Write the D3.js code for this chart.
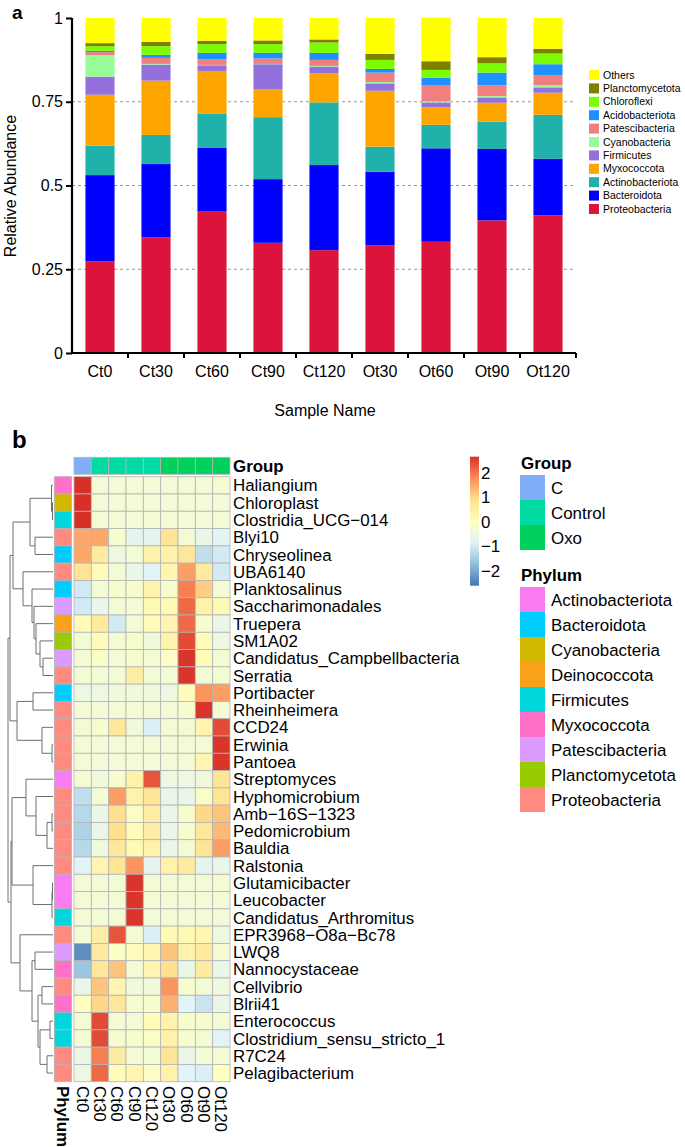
<!DOCTYPE html>
<html><head><meta charset="utf-8">
<script src="https://cdn.jsdelivr.net/npm/d3@7"></script>
<style>
body{margin:0;background:#fff}
text{font-family:"Liberation Sans",Arial,Helvetica,sans-serif;fill:#000}
</style>
</head><body>
<svg id="chart" width="685" height="1147"></svg>
<script>
// ---------------- Panel a data ----------------
const samples = ["Ct0","Ct30","Ct60","Ct90","Ct120","Ot30","Ot60","Ot90","Ot120"];
const phylaStack = ["Proteobacteria","Bacteroidota","Actinobacteriota","Myxococcota","Firmicutes","Cyanobacteria","Patescibacteria","Acidobacteriota","Chloroflexi","Planctomycetota","Others"];
const phylaStackColors = ["#DC143C","#0000FF","#20B2AA","#FFA500","#9370DB","#98FB98","#F08080","#1E90FF","#7CFC00","#808000","#FFFF00"];
const proteobacteria   = [0.273,0.345,0.422,0.329,0.307,0.321,0.332,0.396,0.411];
const bacteroidota     = [0.258,0.219,0.190,0.190,0.254,0.220,0.279,0.213,0.169];
const actinobacteriota = [0.088,0.087,0.103,0.185,0.187,0.075,0.070,0.081,0.131];
const myxococcota      = [0.152,0.162,0.127,0.084,0.087,0.167,0.052,0.057,0.066];
const firmicutes       = [0.054,0.048,0.017,0.074,0.020,0.022,0.015,0.016,0.016];
const cyanobacteria    = [0.064,0.002,0.001,0.001,0.002,0.004,0.003,0.004,0.006];
const patescibacteria  = [0.009,0.018,0.017,0.016,0.018,0.028,0.049,0.032,0.031];
const acidobacteriota  = [0.004,0.009,0.019,0.017,0.021,0.011,0.022,0.038,0.032];
const chloroflexi      = [0.014,0.026,0.026,0.026,0.031,0.027,0.023,0.028,0.032];
const planctomycetota  = [0.009,0.013,0.010,0.011,0.009,0.018,0.026,0.018,0.014];
const others           = [0.075,0.071,0.068,0.067,0.064,0.107,0.130,0.117,0.092];
const yTicks = [0,0.25,0.5,0.75,1];

// ---------------- Panel b data ----------------
const rowNames = ["Haliangium","Chloroplast","Clostridia_UCG\u2212014","Blyi10","Chryseolinea","UBA6140","Planktosalinus","Saccharimonadales","Truepera","SM1A02","Candidatus_Campbellbacteria","Serratia","Portibacter","Rheinheimera","CCD24","Erwinia","Pantoea","Streptomyces","Hyphomicrobium","Amb\u221216S\u22121323","Pedomicrobium","Bauldia","Ralstonia","Glutamicibacter","Leucobacter","Candidatus_Arthromitus","EPR3968\u2212O8a\u2212Bc78","LWQ8","Nannocystaceae","Cellvibrio","Blrii41","Enterococcus","Clostridium_sensu_stricto_1","R7C24","Pelagibacterium"];
const rowPhylum = ["Myxococcota","Cyanobacteria","Firmicutes","Proteobacteria","Bacteroidota","Proteobacteria","Bacteroidota","Patescibacteria","Deinococcota","Planctomycetota","Patescibacteria","Proteobacteria","Bacteroidota","Proteobacteria","Proteobacteria","Proteobacteria","Proteobacteria","Actinobacteriota","Proteobacteria","Proteobacteria","Proteobacteria","Proteobacteria","Proteobacteria","Actinobacteriota","Actinobacteriota","Firmicutes","Proteobacteria","Patescibacteria","Myxococcota","Proteobacteria","Myxococcota","Firmicutes","Firmicutes","Proteobacteria","Proteobacteria"];
const heatValues = [
 [2.67,-0.33,-0.33,-0.33,-0.33,-0.33,-0.33,-0.33,-0.25],
 [2.67,-0.33,-0.33,-0.33,-0.33,-0.33,-0.33,-0.33,-0.33],
 [2.67,-0.33,-0.33,-0.33,-0.33,-0.33,-0.33,-0.33,-0.33],
 [1.5,1.5,-0.2,-0.7,-0.7,0.8,-0.3,-0.6,-0.8],
 [1.5,0.6,-0.5,-0.3,0.4,0.4,0.7,-1.2,-1.0],
 [0.8,0.1,-0.3,-0.6,-0.8,0.3,1.6,0.6,-1.0],
 [-1.0,-0.3,-0.2,-0.2,0.4,-0.2,1.9,1.1,-0.3],
 [-1.0,-0.6,-0.3,-0.3,0.2,0.2,2.1,0.4,0.2],
 [0.1,0.6,-1.0,-0.3,0.1,0.3,2.1,-0.2,-0.6],
 [-0.3,0.1,-0.3,-0.2,-0.4,0.4,2.4,0.1,-0.5],
 [-0.3,-0.1,-0.3,-0.2,-0.3,-0.1,2.6,0.1,-0.3],
 [-0.3,-0.3,-0.3,0.5,-0.3,-0.3,2.6,-0.3,-0.3],
 [-0.5,-0.5,-0.4,-0.4,-0.4,-0.5,0.1,1.7,1.6],
 [-0.33,-0.33,-0.33,-0.33,-0.33,-0.33,-0.2,2.6,-0.33],
 [-0.3,-0.2,0.7,-0.4,-0.9,-0.3,-0.3,0.3,2.4],
 [-0.33,-0.33,-0.33,-0.33,-0.33,-0.33,-0.33,-0.3,2.6],
 [-0.33,-0.33,-0.33,-0.33,-0.33,-0.33,-0.33,0.3,2.6],
 [-0.3,-0.4,-0.2,0.4,2.3,-0.5,-0.5,-0.4,0.8],
 [-1.2,-0.3,1.6,0.4,0.8,-0.6,-0.6,-0.1,0.8],
 [-1.3,-0.6,0.9,-0.1,0.5,-0.6,-0.2,1.0,1.2],
 [-1.4,-0.6,0.9,0.1,0.5,-0.6,-0.2,0.7,1.3],
 [-1.3,-0.4,0.7,0.2,0.4,-0.6,-0.3,0.8,1.6],
 [-0.8,0.3,0.8,1.7,-0.7,0.4,0.6,-0.7,-0.6],
 [-0.33,-0.33,-0.33,2.6,-0.33,-0.33,-0.33,-0.33,-0.33],
 [-0.33,-0.33,-0.33,2.6,-0.33,-0.33,-0.33,-0.33,-0.33],
 [-0.33,-0.33,-0.33,2.6,-0.33,-0.33,-0.33,-0.33,-0.33],
 [-0.3,0.5,2.3,-0.3,-0.9,0.2,0.2,0.3,-0.5],
 [-2.3,0.6,-0.1,0.1,0.3,1.2,0.4,0.6,-0.3],
 [-1.6,0.7,1.2,-0.3,0.3,0.9,-0.6,0.6,-0.6],
 [-0.6,1.2,0.3,-0.4,-0.4,1.7,-0.2,-0.3,-0.4],
 [0.0,1.0,0.7,-0.2,-0.2,1.4,-0.8,-1.1,-0.6],
 [-0.3,2.4,-0.3,-0.3,0.1,0.4,-0.2,-0.2,-0.3],
 [-0.3,2.4,-0.2,-0.2,-0.1,0.4,-0.2,-0.3,-0.8],
 [-0.6,1.9,0.6,-0.3,-0.3,0.8,-0.6,-0.3,-0.3],
 [-0.5,2.1,0.1,0.3,-0.1,0.4,-0.8,-0.9,0.0]
];
const sampleGroup = ["C","Control","Control","Control","Control","Oxo","Oxo","Oxo","Oxo"];
const groupNames = ["C","Control","Oxo"];
const groupColors = ["#80AEF7","#00DBA3","#00D05C"];
const phylumNames = ["Actinobacteriota","Bacteroidota","Cyanobacteria","Deinococcota","Firmicutes","Myxococcota","Patescibacteria","Planctomycetota","Proteobacteria"];
const phylumColors = ["#F97CF2","#00CCFF","#D2B800","#F9A11B","#00D6DC","#FF70C8","#DC9BFF","#99CC00","#FF8A80"];
const heatPalette = ["#4575B4","#91BFDB","#E0F3F8","#FFFFBF","#FEE090","#FC8D59","#D73027"];
const legendTicks = [2,1,0,-1,-2];
// dendrogram merges: [id, childA, childB, height]
const dendroMerges = [
 ["n1","Chloroplast","Clostridia_UCG\u2212014",0.5],
 ["n2","Haliangium","n1",1.5],
 ["n3","Blyi10","Chryseolinea",18],
 ["n4","n2","n3",23],
 ["n5","Candidatus_Campbellbacteria","Serratia",10],
 ["n6","SM1A02","n5",13],
 ["n7","Truepera","n6",17],
 ["n8","Saccharimonadales","n7",19],
 ["n9","Planktosalinus","n8",21],
 ["n10","UBA6140","n9",30],
 ["n11","n4","n10",40],
 ["n12","Portibacter","Rheinheimera",20],
 ["n13","Erwinia","Pantoea",1],
 ["n14","CCD24","n13",11],
 ["n15","n12","n14",36],
 ["n16","n11","n15",43],
 ["n17","Amb\u221216S\u22121323","Pedomicrobium",1],
 ["n18","n17","Bauldia",6],
 ["n19","Hyphomicrobium","n18",17],
 ["n20","Streptomyces","n19",27],
 ["n21","Glutamicibacter","Leucobacter",0.5],
 ["n22","n21","Candidatus_Arthromitus",1],
 ["n23","Ralstonia","n22",20],
 ["n24","n20","n23",41],
 ["n25","LWQ8","Nannocystaceae",18],
 ["n26","Cellvibrio","Blrii41",11],
 ["n27","Enterococcus","Clostridium_sensu_stricto_1",3],
 ["n28","R7C24","Pelagibacterium",6],
 ["n29","n27","n28",13],
 ["n30","n26","n29",15],
 ["n31","n25","n30",21],
 ["n32","EPR3968\u2212O8a\u2212Bc78","n31",33],
 ["n33","n24","n32",42],
 ["n34","n16","n33",45]
];

// ---------------- Drawing ----------------
const svg = d3.select("#chart");

// ===== Panel a =====
const seriesArrays = [proteobacteria,bacteroidota,actinobacteriota,myxococcota,firmicutes,cyanobacteria,patescibacteria,acidobacteriota,chloroflexi,planctomycetota,others];
const table = samples.map((s,i)=>{const r={sample:s}; phylaStack.forEach((p,k)=>r[p]=seriesArrays[k][i]); return r;});
const stacked = d3.stack().keys(phylaStack)(table);
const xA = d3.scaleBand().domain(samples).range([72,576]).paddingInner(0.48).paddingOuter(0.24);
const yA = d3.scaleLinear().domain([0,1]).range([353,18]);
const colA = d3.scaleOrdinal().domain(phylaStack).range(phylaStackColors);

svg.append("text").attr("x",12).attr("y",19).attr("font-size",19).attr("font-weight","bold").text("a");

// grid
svg.append("g").selectAll("line").data([0.25,0.5,0.75]).join("line")
  .attr("x1",72).attr("x2",576).attr("y1",d=>yA(d)).attr("y2",d=>yA(d))
  .attr("stroke","#999").attr("stroke-width",1.2).attr("stroke-dasharray","3,3");

svg.append("g").selectAll("g").data(stacked).join("g").attr("fill",d=>colA(d.key))
  .selectAll("rect").data(d=>d).join("rect")
  .attr("x",d=>xA(d.data.sample)).attr("width",xA.bandwidth())
  .attr("y",d=>yA(d[1])).attr("height",d=>yA(d[0])-yA(d[1]));

const yAxis = svg.append("g").attr("transform","translate(72,0)")
  .call(d3.axisLeft(yA).tickValues(yTicks).tickFormat(d=>String(d)).tickSize(6).tickPadding(3));
yAxis.select(".domain").attr("stroke","#000").attr("stroke-width",2.2).attr("d","M0,"+yA(1)+"V"+yA(0));
yAxis.selectAll(".tick line").attr("stroke-width",2);
yAxis.selectAll("text").attr("font-size",16).attr("font-family","Liberation Sans, Arial, sans-serif");

const xAxis = svg.append("g").attr("transform","translate(0,353)")
  .call(d3.axisBottom(xA).tickSize(0).tickPadding(13));
xAxis.select(".domain").attr("stroke","#000").attr("stroke-width",2.2).attr("d","M71,0H576");
xAxis.selectAll("text").attr("font-size",16).attr("font-family","Liberation Sans, Arial, sans-serif");
svg.append("g").selectAll("line").data(d3.range(1,10)).join("line")
  .attr("x1",d=>72+d*xA.step()).attr("x2",d=>72+d*xA.step())
  .attr("y1",353).attr("y2",358).attr("stroke","#000").attr("stroke-width",2);

svg.append("text").attr("x",325).attr("y",416).attr("text-anchor","middle").attr("font-size",16).text("Sample Name");
svg.append("text").attr("transform","translate(16,186) rotate(-90)").attr("text-anchor","middle").attr("font-size",16).text("Relative Abundance");

// legend a
const legA = svg.append("g");
const legOrder = phylaStack.slice().reverse();
legOrder.forEach((p,i)=>{
  const cy = 75 + i*13.4;
  legA.append("rect").attr("x",589).attr("y",cy-5).attr("width",10).attr("height",10).attr("fill",colA(p));
  legA.append("text").attr("x",603).attr("y",cy).attr("dy","0.35em").attr("font-size",10.5).attr("fill","#222").text(p);
});

// ===== Panel b =====
svg.append("text").attr("x",12).attr("y",448).attr("font-size",24).attr("font-weight","bold").text("b");

const xB = d3.scaleBand().domain(samples).range([74,230]);
const yB = d3.scaleBand().domain(rowNames).range([476.7,1081.7]);
const heatDomain = d3.range(7).map(i=>-2.6 + i*(5.25/6));
const colB = d3.scaleLinear().domain(heatDomain).range(heatPalette).clamp(true);
const grpCol = d3.scaleOrdinal().domain(groupNames).range(groupColors);
const phyCol = d3.scaleOrdinal().domain(phylumNames).range(phylumColors);
const cellStroke = "#b4b4b4";
const fs = 16.9;

// group annotation
svg.append("g").selectAll("rect").data(samples).join("rect")
  .attr("x",d=>xB(d)).attr("y",457.3).attr("width",xB.bandwidth()).attr("height",17)
  .attr("fill",(d,i)=>grpCol(sampleGroup[i])).attr("stroke",cellStroke).attr("stroke-width",0.8);
svg.append("text").attr("x",233).attr("y",466).attr("dy","0.35em").attr("font-size",fs).attr("font-weight","bold").text("Group");

// phylum annotation
svg.append("g").selectAll("rect").data(rowNames).join("rect")
  .attr("x",54.3).attr("y",d=>yB(d)).attr("width",17.3).attr("height",yB.bandwidth())
  .attr("fill",(d,i)=>phyCol(rowPhylum[i])).attr("stroke",cellStroke).attr("stroke-width",0.8);

// heat cells
const cells = [];
heatValues.forEach((row,i)=>row.forEach((v,j)=>cells.push({r:rowNames[i],c:samples[j],v})));
svg.append("g").selectAll("rect").data(cells).join("rect")
  .attr("x",d=>xB(d.c)).attr("y",d=>yB(d.r)).attr("width",xB.bandwidth()).attr("height",yB.bandwidth())
  .attr("fill",d=>colB(d.v)).attr("stroke",cellStroke).attr("stroke-width",0.8);

// row labels
svg.append("g").selectAll("text").data(rowNames).join("text")
  .attr("x",233).attr("y",d=>yB(d)+yB.bandwidth()/2).attr("dy","0.36em").attr("font-size",fs).attr("fill","#111").text(d=>d);

// column labels
svg.append("g").selectAll("text").data(samples).join("text")
  .attr("transform",d=>`translate(${xB(d)+xB.bandwidth()/2},1086) rotate(90)`)
  .attr("dy","0.36em").attr("font-size",fs).attr("fill","#111").text(d=>d);
svg.append("text").attr("transform","translate(63,1086) rotate(90)")
  .attr("dy","0.36em").attr("font-size",fs).attr("font-weight","bold").text("Phylum");

// dendrogram
const maxH = d3.max(dendroMerges,d=>d[3]);
const xD = d3.scaleLinear().domain([0,maxH]).range([53,8]);
const nodeInfo = {};
rowNames.forEach(r=>nodeInfo[r]={y:yB(r)+yB.bandwidth()/2,h:0});
const dg = svg.append("g").attr("fill","none").attr("stroke","#6e6e6e").attr("stroke-width",1);
dendroMerges.forEach(([id,a,b,h])=>{
  const A=nodeInfo[a], B=nodeInfo[b];
  const xh = xD(h);
  dg.append("path").attr("d",`M${xD(A.h)},${A.y}H${xh}V${B.y}H${xD(B.h)}`);
  nodeInfo[id]={y:(A.y+B.y)/2,h};
});

// color legend
const yL = d3.scaleLinear().domain([-2.6,2.65]).range([585.7,456.7]);
const defs = svg.append("defs");
const grad = defs.append("linearGradient").attr("id","hg").attr("x1",0).attr("y1",1).attr("x2",0).attr("y2",0);
heatDomain.forEach((v,i)=>grad.append("stop").attr("offset",(v-(-2.6))/5.25).attr("stop-color",heatPalette[i]));
svg.append("rect").attr("x",470).attr("y",456.7).attr("width",9).attr("height",129).attr("fill","url(#hg)");
svg.append("g").selectAll("text").data(legendTicks).join("text")
  .attr("x",481).attr("y",d=>yL(d)).attr("dy","0.36em").attr("font-size",fs).attr("fill","#111")
  .text(d=>d<0?"\u2212"+Math.abs(d):String(d));

// group legend
svg.append("text").attr("x",521).attr("y",463).attr("dy","0.36em").attr("font-size",fs).attr("font-weight","bold").text("Group");
groupNames.forEach((g,i)=>{
  svg.append("rect").attr("x",520).attr("y",475+i*25).attr("width",25).attr("height",25).attr("fill",grpCol(g));
  svg.append("text").attr("x",551).attr("y",487.5+i*25).attr("dy","0.36em").attr("font-size",fs).attr("fill","#111").text(g);
});
svg.append("text").attr("x",521).attr("y",575).attr("dy","0.36em").attr("font-size",fs).attr("font-weight","bold").text("Phylum");
phylumNames.forEach((p,i)=>{
  svg.append("rect").attr("x",520).attr("y",587+i*25).attr("width",25).attr("height",25).attr("fill",phyCol(p));
  svg.append("text").attr("x",551).attr("y",599.5+i*25).attr("dy","0.36em").attr("font-size",fs).attr("fill","#111").text(p);
});
</script>
</body></html>
